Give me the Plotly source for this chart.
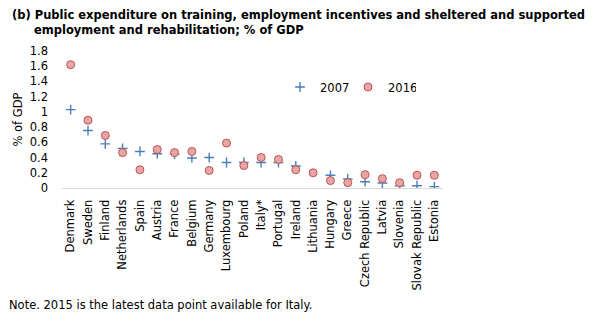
import plotly.graph_objects as go

countries = ["Denmark", "Sweden", "Finland", "Netherlands", "Spain", "Austria", "France",
             "Belgium", "Germany", "Luxembourg", "Poland", "Italy*", "Portugal", "Ireland",
             "Lithuania", "Hungary", "Greece", "Czech Republic", "Latvia", "Slovenia",
             "Slovak Republic", "Estonia"]
v2007 = [1.03, 0.755, 0.58, 0.52, 0.48, 0.45, 0.445, 0.395, 0.40, 0.335, 0.335, 0.335,
         0.335, 0.29, None, 0.167, 0.12, 0.083, 0.066, 0.03, 0.03, 0.018]
v2016 = [1.62, 0.89, 0.69, 0.465, 0.24, 0.505, 0.465, 0.48, 0.23, 0.59, 0.295, 0.40,
         0.375, 0.24, 0.20, 0.097, 0.07, 0.175, 0.123, 0.07, 0.167, 0.167]
yticks = [0, 0.2, 0.4, 0.6, 0.8, 1, 1.2, 1.4, 1.6, 1.8]
ytick_text = ["0", "0.2", "0.4", "0.6", "0.8", "1", "1.2", "1.4", "1.6", "1.8"]

FONT = "DejaVu Sans"
FS = 11.5

# plot area in pixels
L, R, T, B = 62, 168, 51, 135
PW, PH = 611 - L - R, 323 - T - B

fig = go.Figure()
fig.add_trace(go.Scatter(
    x=countries, y=v2007, mode="markers", name="2007",
    marker=dict(symbol="cross-thin", size=7, line=dict(color="#4A7EBB", width=1.4), color="#4A7EBB"),
))
fig.add_trace(go.Scatter(
    x=countries, y=v2016, mode="markers", name="2016",
    marker=dict(symbol="circle", size=8, color="#E6A6A6", line=dict(color="#C0504D", width=1)),
))

fig.update_layout(
    width=611, height=323,
    margin=dict(l=L, r=R, t=T, b=B),
    paper_bgcolor="white", plot_bgcolor="white",
    font=dict(family=FONT, size=FS, color="black"),
    showlegend=True,
    legend=dict(orientation="h", x=(280 - L) / PW, y=(188 - 87) / PH, xanchor="left", yanchor="middle",
                font=dict(family=FONT, size=FS), entrywidth=23, entrywidthmode="pixels",
                bgcolor="rgba(0,0,0,0)"),
    xaxis=dict(type="category", categoryorder="array", categoryarray=countries,
               range=[-0.5, len(countries) - 0.5], showgrid=False, showline=True,
               linecolor="#D9D9D9", linewidth=1, ticks="", tickangle=-90, ticklabelstandoff=6,
               tickfont=dict(family=FONT, size=FS), zeroline=False),
    yaxis=dict(range=[0, 1.8], tickvals=yticks, ticktext=ytick_text, showgrid=False,
               showline=False, zeroline=False, ticks="", ticklabelstandoff=13,
               tickfont=dict(family=FONT, size=FS),
               title=dict(text="% of GDP", font=dict(family=FONT, size=FS), standoff=4)),
    annotations=[
        dict(text="<b>(b) Public expenditure on training, employment incentives and sheltered and supported</b>",
             xref="paper", yref="paper", x=(10 - L) / PW, y=1 + (T - 15) / PH, xanchor="left", yanchor="middle",
             showarrow=False, font=dict(family=FONT, size=FS)),
        dict(text="<b>employment and rehabilitation; % of GDP</b>",
             xref="paper", yref="paper", x=(32 - L) / PW, y=1 + (T - 30) / PH, xanchor="left", yanchor="middle",
             showarrow=False, font=dict(family=FONT, size=FS)),
        dict(text="Note. 2015 is the latest data point available for Italy.",
             xref="paper", yref="paper", x=(7 - L) / PW, y=-(305 - 188) / PH, xanchor="left", yanchor="middle",
             showarrow=False, font=dict(family=FONT, size=FS)),
    ],
)

fig.write_html("out.html")
